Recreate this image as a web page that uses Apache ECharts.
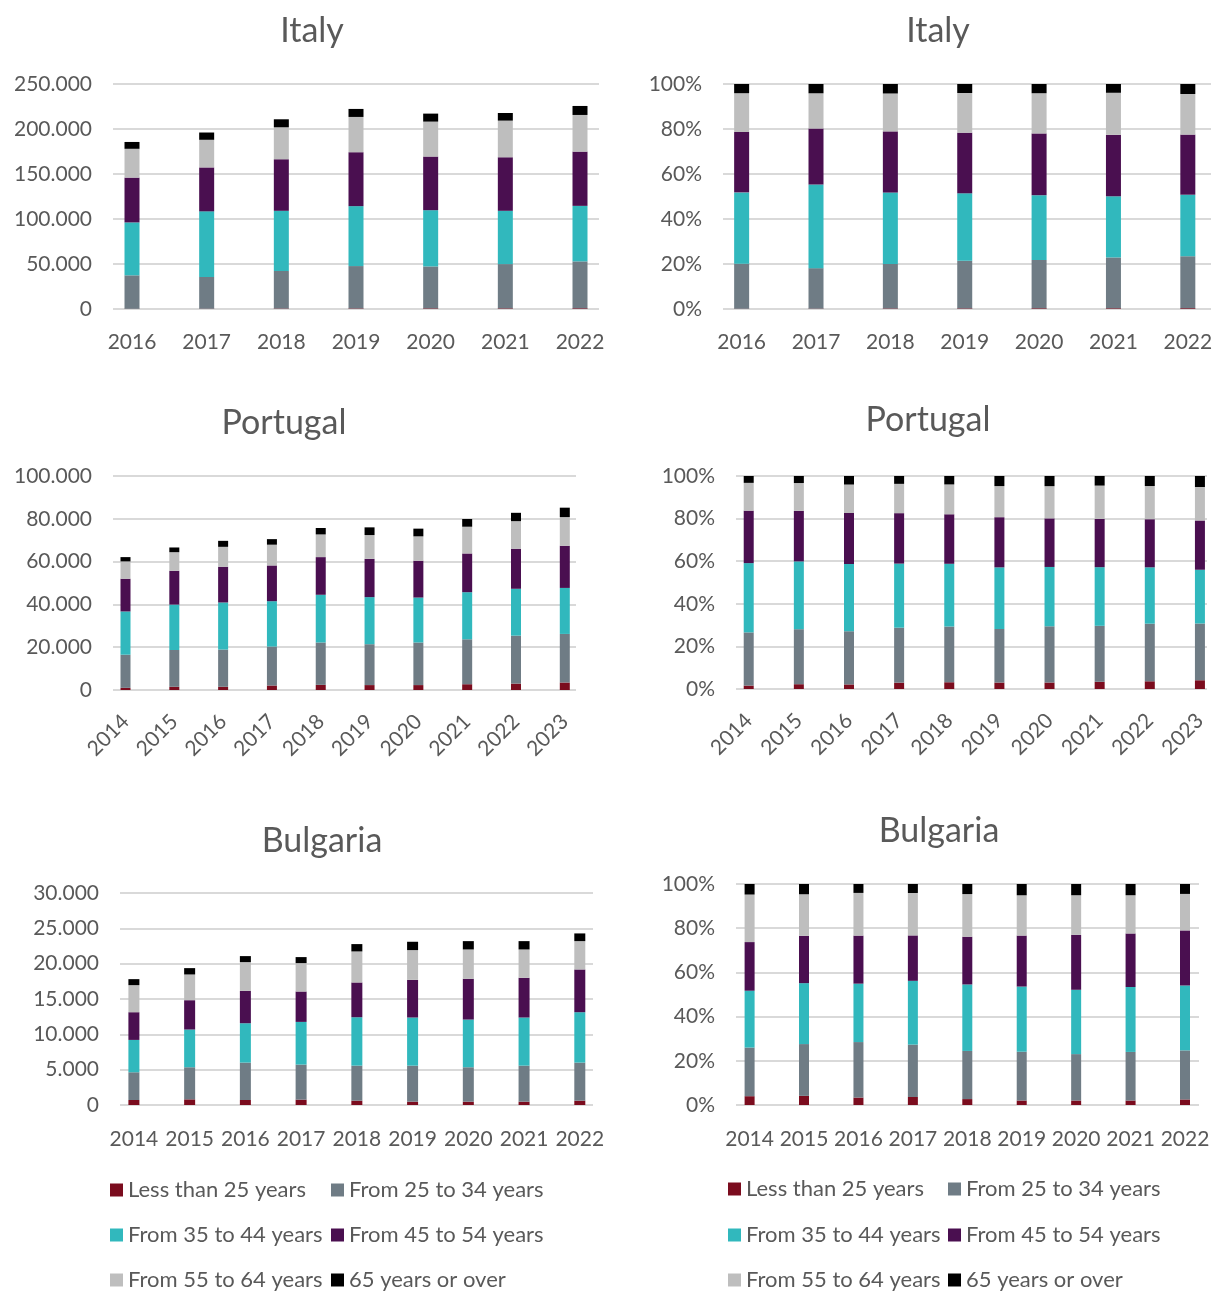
<!DOCTYPE html>
<html>
<head>
<meta charset="utf-8">
<script src="https://cdn.jsdelivr.net/npm/echarts@6/dist/echarts.min.js"></script>
<style>
html,body{margin:0;padding:0;background:#fff;}
#chart{width:1225px;height:1291px;}
</style>
</head>
<body>
<div id="chart"></div>
<script>
// ---------- DATA ----------
const ageGroups = ['Less than 25 years','From 25 to 34 years','From 35 to 44 years','From 45 to 54 years','From 55 to 64 years','65 years or over'];

const italyYears = ['2016','2017','2018','2019','2020','2021','2022'];
const italyLt25  = [200, 300, 500, 600, 700, 700, 800];
const italy25_34 = [37200, 35300, 41700, 47100, 46600, 49200, 52100];
const italy35_44 = [58800, 72900, 66900, 66600, 62500, 59200, 61700];
const italy45_54 = [49800, 48800, 57300, 59900, 59600, 59500, 60300];
const italy55_64 = [32000, 30700, 35500, 39200, 38800, 40700, 40700];
const italy65    = [7600, 8100, 8900, 8900, 8900, 8500, 10000];

const portugalYears = ['2014','2015','2016','2017','2018','2019','2020','2021','2022','2023'];
const portugalLt25  = [1000, 1500, 1500, 2100, 2400, 2300, 2300, 2700, 3000, 3500];
const portugal25_34 = [15500, 17200, 17400, 18200, 19800, 19100, 19900, 21000, 22400, 22700];
const portugal35_44 = [20200, 21200, 22000, 21200, 22300, 22000, 21000, 22000, 21900, 21500];
const portugal45_54 = [15300, 15800, 16700, 16700, 17600, 17900, 17200, 18100, 18700, 19700];
const portugal55_64 = [8100, 8700, 9300, 9700, 10600, 11100, 11400, 12500, 12900, 13400];
const portugal65    = [2000, 2200, 2800, 2600, 3000, 3600, 3600, 3600, 3900, 4400];

const bulgariaYears = ['2014','2015','2016','2017','2018','2019','2020','2021','2022'];
const bulgariaLt25  = [710, 800, 710, 760, 610, 470, 470, 470, 610];
const bulgaria25_34 = [3920, 4540, 5290, 4960, 4960, 5100, 4870, 5100, 5390];
const bulgaria35_44 = [4580, 5340, 5570, 6040, 6850, 6810, 6750, 6810, 7130];
const bulgaria45_54 = [3920, 4150, 4580, 4300, 4920, 5330, 5770, 5620, 6050];
const bulgaria55_64 = [3830, 3640, 4070, 4020, 4390, 4210, 4150, 4010, 4010];
const bulgaria65    = [850, 900, 850, 850, 1040, 1180, 1180, 1180, 1090];

const italyTicksAbs = [0, 250000, 50000];
const portugalTicksAbs = [0, 100000, 20000];
const bulgariaTicksAbs = [0, 30000, 5000];
const pctTicks = [0, 100, 20];

// ---------- STYLE ----------
const colors = ['#7B0C1E','#6F7C85','#31B8BD','#4A0F50','#BEBEBE','#000000'];
const FONT = 'Lato';
const TXT = '#595959';
const LBL = 21;

const italyData = [italyLt25, italy25_34, italy35_44, italy45_54, italy55_64, italy65];
const portugalData = [portugalLt25, portugal25_34, portugal35_44, portugal45_54, portugal55_64, portugal65];
const bulgariaData = [bulgariaLt25, bulgaria25_34, bulgaria35_44, bulgaria45_54, bulgaria55_64, bulgaria65];

function toPct(data){
  const n = data[0].length;
  const tot = [];
  for (let i=0;i<n;i++){ let s=0; data.forEach(a=>s+=a[i]); tot.push(s); }
  return data.map(a => a.map((v,i)=> v/tot[i]*100));
}
function thousands(v){
  return String(v).replace(/\B(?=(\d{3})+(?!\d))/g,'.');
}

const panels = [
  {title:'Italy', tx:312, ty:14, years:italyYears, data:italyData, pct:false, ticks:italyTicksAbs,
   gl:113, gr:599, top:84, bottom:309, c1:132, cn:580, bw:15, rotate:0, xm:23},
  {title:'Italy', tx:938, ty:14, years:italyYears, data:toPct(italyData), pct:true, ticks:pctTicks,
   gl:723, gr:1211, top:84, bottom:309, c1:742.5, cn:1199, bw:15, rotate:0, xm:23},
  {title:'Portugal', tx:284, ty:406, years:portugalYears, data:portugalData, pct:false, ticks:portugalTicksAbs,
   gl:113, gr:576, top:476, bottom:690, c1:125.5, cn:564.8, bw:10, rotate:45, xm:28},
  {title:'Portugal', tx:928, ty:403, years:portugalYears, data:toPct(portugalData), pct:true, ticks:pctTicks,
   gl:736, gr:1207, top:476, bottom:689, c1:748.8, cn:1201.5, bw:10, rotate:45, xm:28},
  {title:'Bulgaria', tx:322, ty:824, years:bulgariaYears, data:bulgariaData, pct:false, ticks:bulgariaTicksAbs,
   gl:120, gr:593, top:893, bottom:1105, c1:133.9, cn:579.8, bw:11, rotate:0, xm:24},
  {title:'Bulgaria', tx:939, ty:814, years:bulgariaYears, data:toPct(bulgariaData), pct:true, ticks:pctTicks,
   gl:736, gr:1199, top:884, bottom:1105, c1:749.6, cn:1185, bw:10, rotate:0, xm:24}
];

const option = {animation:false, backgroundColor:'#fff', title:[], grid:[], xAxis:[], yAxis:[], series:[], legend:[]};

panels.forEach((p,pi)=>{
  option.title.push({text:p.title, left:p.tx, top:p.ty, textAlign:'center', padding:0,
    textStyle:{fontFamily:FONT, fontSize:34, fontWeight:'normal', color:TXT}});
  const n = p.years.length;
  const band = (p.cn - p.c1)/(n-1);
  const gG = option.grid.length;
  option.grid.push({left:p.gl, top:p.top, width:p.gr-p.gl, height:p.bottom-p.top});
  option.grid.push({left:p.c1-band/2, top:p.top, width:band*n, height:p.bottom-p.top});
  const gB = gG+1;
  // gridline grid
  option.xAxis.push({gridIndex:gG, type:'value', show:false, min:0, max:1});
  option.yAxis.push({gridIndex:gG, type:'value', min:p.ticks[0], max:p.ticks[1], interval:p.ticks[2],
    axisLine:{show:false}, axisTick:{show:false},
    splitLine:{show:true, lineStyle:{color:'#D9D9D9', width:2}},
    axisLabel:{margin:21, color:TXT, fontFamily:FONT, fontSize:LBL,
      formatter: p.pct ? (v=>v+'%') : (v=>thousands(v))}});
  // bar grid
  const xi = option.xAxis.length;
  option.xAxis.push({gridIndex:gB, type:'category', data:p.years,
    axisLine:{show:false}, axisTick:{show:false}, splitLine:{show:false},
    axisLabel:{interval:0, rotate:p.rotate, margin:p.xm, color:TXT, fontFamily:FONT, fontSize:LBL}});
  const yi = option.yAxis.length;
  option.yAxis.push({gridIndex:gB, type:'value', min:p.ticks[0], max:p.ticks[1], show:false, splitLine:{show:false}});
  p.data.forEach((arr,si)=>{
    option.series.push({type:'bar', name:ageGroups[si], xAxisIndex:xi, yAxisIndex:yi,
      stack:'s'+pi, barWidth:p.bw, data:arr,
      itemStyle:{color:colors[si]}, emphasis:{disabled:true}});
  });
});

// legends: one component per item, placed in two columns x three rows
const legendCols = [[0,2,4],[1,3,5]];
const legendBlocks = [
  {x:[110,331], y:[1190,1235,1280]},
  {x:[728,948], y:[1189,1235,1280]}
];
legendBlocks.forEach(b=>{
  legendCols.forEach((col,ci)=>{
    col.forEach((gi,ri)=>{
      option.legend.push({orient:'horizontal', icon:'rect', itemWidth:13, itemHeight:13, padding:0,
        left:b.x[ci], top:b.y[ri]-11, selectedMode:false, data:[ageGroups[gi]],
        textStyle:{fontFamily:FONT, fontSize:22, color:TXT, lineHeight:22}});
    });
  });
});

const chart = echarts.init(document.getElementById('chart'));
chart.setOption(option);
</script>
</body>
</html>
